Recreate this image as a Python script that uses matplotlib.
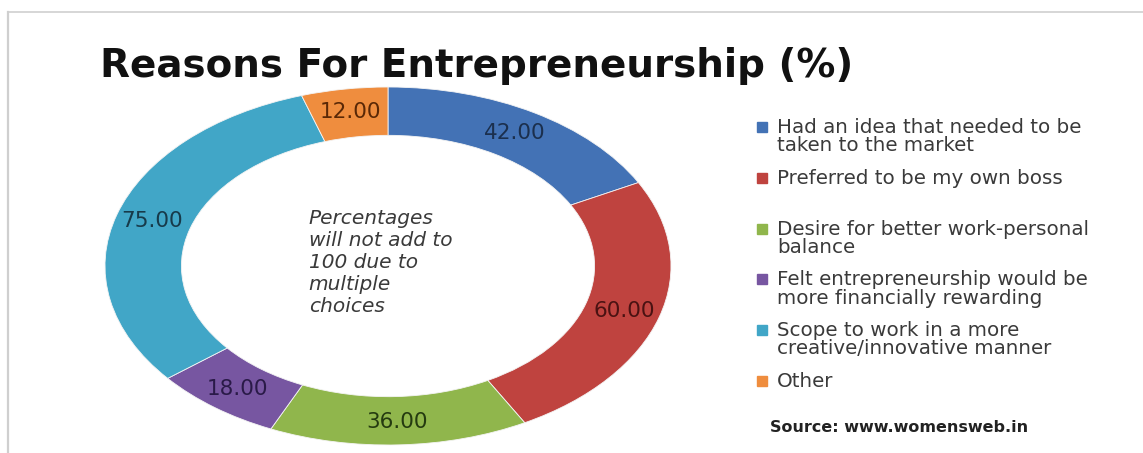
import matplotlib
matplotlib.use("Agg")
import matplotlib.pyplot as plt
import numpy as np
from matplotlib.lines import Line2D
from matplotlib.patches import Rectangle

# Survey answers (multiple choice, so they do not sum to 100)
reasons = [
    "Had an idea that needed to be\ntaken to the market",
    "Preferred to be my own boss",
    "Desire for better work-personal\nbalance",
    "Felt entrepreneurship would be\nmore financially rewarding",
    "Scope to work in a more\ncreative/innovative manner",
    "Other",
]
shares = [42.00, 60.00, 36.00, 18.00, 75.00, 12.00]

COLORS = ["#4372b5", "#bf433f", "#90b64c", "#7756a1", "#41a6c7", "#ef8d3e"]
LABEL_INK = ["#1b2f4d", "#4a1212", "#243a10", "#2a1a48", "#173a4a", "#5a2806"]
INK = "#111111"
TEXT = "#3a3a3a"
FRAME = "#cfcfcf"

W, H = 1143, 453
fig = plt.figure(figsize=(W / 100, H / 100), dpi=100)
fig.patch.set_facecolor("white")

# light frame along the top and left edges
fig.add_artist(Line2D([8 / W, 1.0], [1 - 12 / H, 1 - 12 / H], color=FRAME,
                      linewidth=1.2, transform=fig.transFigure))
fig.add_artist(Line2D([8 / W, 8 / W], [0, 1 - 12 / H], color=FRAME,
                      linewidth=1.6, transform=fig.transFigure))

fig.text(100 / W, 1 - 66 / H, "Reasons For Entrepreneurship (%)",
         fontsize=28, fontweight="bold", family="DejaVu Sans", color=INK,
         ha="left", va="center")

# the ring is drawn stretched, so the axes box is wider than tall
ax = fig.add_axes([105 / W, 8 / H, 566 / W, 358 / H])
wedges, _ = ax.pie(shares, colors=COLORS, startangle=90, counterclock=False,
                   radius=1.0,
                   wedgeprops=dict(width=0.27, edgecolor="#f4f4f4",
                                   linewidth=0.6))
ax.set_aspect("auto")
ax.set_xlim(-1, 1)
ax.set_ylim(-1, 1)
ax.axis("off")

for w, v, c in zip(wedges, shares, LABEL_INK):
    mid = np.deg2rad((w.theta1 + w.theta2) / 2)
    ax.text(0.87 * np.cos(mid), 0.87 * np.sin(mid), f"{v:.2f}",
            ha="center", va="center", fontsize=15.5, color=c)

ax.text(-0.28, 0.02,
        "Percentages\nwill not add to\n100 due to\nmultiple\nchoices",
        ha="left", va="center", fontsize=14.5, style="italic",
        color=TEXT, linespacing=1.2)

# legend: entries spread evenly down the right side
for i, (name, col) in enumerate(zip(reasons, COLORS)):
    y = 1 - (127 + i * 50.8) / H
    fig.add_artist(Rectangle((757 / W, y - 5 / H), 10 / W, 10 / H,
                             color=col, transform=fig.transFigure))
    fig.text(777 / W, y + 9 / H, name, fontsize=14.3, color=TEXT,
             family="DejaVu Sans", ha="left", va="top", linespacing=0.95)

fig.text(770 / W, 1 - 428 / H, "Source: www.womensweb.in", fontsize=11.5,
         fontweight="bold", color="#222222", ha="left", va="center")

fig.savefig("out.png", dpi=100, facecolor="white")
